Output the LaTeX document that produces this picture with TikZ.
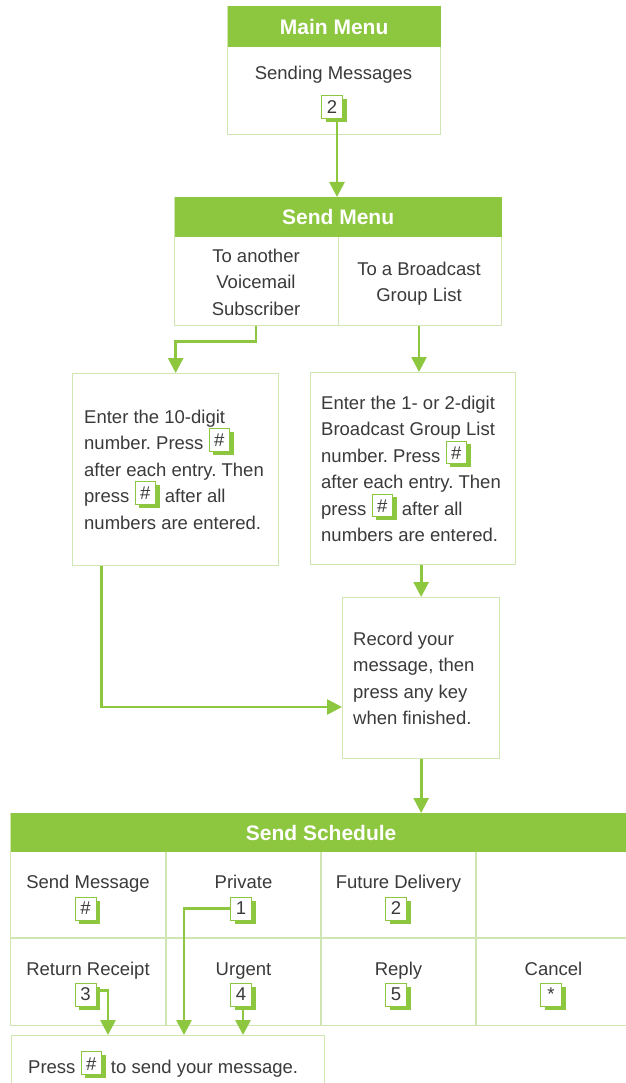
\documentclass[tikz,border=0pt]{standalone}
\usepackage{fontspec}
\setmainfont{Liberation Sans}
\usepackage{xcolor}
\usetikzlibrary{positioning,arrows.meta,shadows}
\definecolor{lime}{HTML}{8DC63F}
\definecolor{pale}{HTML}{CFE6B2}
\definecolor{ink}{HTML}{3A3A3A}
\frenchspacing
\newcommand\hashkey[1]{%
  \begingroup\setlength\fboxsep{0pt}\setlength\fboxrule{0.6pt}%
  \rlap{\hspace{4pt}\raisebox{-5pt}{\textcolor{lime}{\rule{21pt}{23pt}}}}%
  \fcolorbox{lime}{white}{\makebox[20pt]{\rule[-1pt]{0pt}{22pt}\raisebox{3pt}{#1}}}%
  \hspace{4pt}\endgroup}
\tikzset{
  panel/.style={draw=pale, line width=1.3pt, fill=white},
  head/.style={fill=lime, text=white, font=\fontsize{21}{24}\selectfont\bfseries, inner sep=0pt},
  txt/.style={text=ink, font=\fontsize{18.5}{26.5}\selectfont, align=center, inner sep=0pt},
  para/.style={text=ink, font=\fontsize{18.5}{26.5}\selectfont, align=left, inner sep=0pt, anchor=north west},
  keycap/.style={draw=lime, line width=0.6pt, fill=white, text=ink, font=\fontsize{18.5}{20}\selectfont,
    minimum width=21pt, minimum height=23pt, inner sep=0pt,
    general shadow={fill=lime, shadow xshift=4pt, shadow yshift=-4pt}},
  flow/.style={draw=lime, line width=2.7pt, -{Triangle[length=15pt,width=15pt]}},
  cellrule/.style={draw=pale, line width=1.3pt},
}
\begin{document}
\begin{tikzpicture}[x=1pt,y=-1pt]
  \useasboundingbox (0,0) rectangle (625,1083);

  % main menu
  \node[panel, minimum width=213pt, minimum height=128pt, anchor=north west] (mainbox) at (227,6) {};
  \node[head, minimum width=213pt, minimum height=41pt, anchor=north] (mainhead) at (mainbox.north) {Main Menu};
  \node[txt, anchor=base] (sendmsg) at (333.5,80) {Sending Messages};
  \node[keycap] (keytwo) at (332,107) {2};

  % send menu
  \node[panel, minimum width=327pt, minimum height=128pt, anchor=north west] (sendbox) at (174,197) {};
  \node[head, minimum width=327pt, minimum height=40pt, anchor=north] (sendhead) at (sendbox.north) {Send Menu};
  \draw[cellrule] (sendhead.south) -- (sendhead.south |- sendbox.south);
  \node[txt, anchor=north] (subscriber) at (256,248.5) {To another\\Voicemail\\Subscriber};
  \node[txt, anchor=north] (grouplist) at (419,261.5) {To a Broadcast\\Group List};

  % number entry
  \node[panel, minimum width=206pt, minimum height=192pt, anchor=north west] (tenbox) at (72,373) {};
  \node[para] (tentext) at (84,409.5) {Enter the 10-digit\\number. Press \hashkey{\#}\\after each entry. Then\\press \hashkey{\#} after all\\numbers are entered.};
  \node[panel, minimum width=205pt, minimum height=192pt, anchor=north west] (groupbox) at (310,372) {};
  \node[para] (grouptext) at (321,395.5) {Enter the 1- or 2-digit\\Broadcast Group List\\number. Press \hashkey{\#}\\after each entry. Then\\press \hashkey{\#} after all\\numbers are entered.};

  % record
  \node[panel, minimum width=157pt, minimum height=161pt, anchor=north west] (recbox) at (342,597) {};
  \node[para] (rectext) at (353,631.5) {Record your\\message, then\\press any key\\when finished.};
  \coordinate (recin) at (342,707);

  % send schedule
  \node[panel, minimum width=621pt, minimum height=212pt, anchor=north west] (schedbox) at (10,813) {};
  \node[head, minimum width=621pt, minimum height=39pt, anchor=north] (schedhead) at (schedbox.north) {Send Schedule};
  \draw[cellrule] (10,938) -- (631,938);
  \foreach \cx in {166,321,476} \draw[cellrule] (\cx,852) -- (\cx,1025);
  \foreach \id/\cx/\lab/\k in {send/88/Send Message/\#, private/243.5/Private/1, future/398.5/Future Delivery/2}{
    \node[txt, anchor=base] (\id) at (\cx,888) {\lab};
    \node[keycap] (\id-key) at (\cx-2.5,908.5) {\k};
  }
  \foreach \id/\cx/\lab/\k in {receipt/88/Return Receipt/3, urgent/243.5/Urgent/4, reply/398.5/Reply/5, cancel/553.5/Cancel/\raisebox{-5pt}{*}}{
    \node[txt, anchor=base] (\id) at (\cx,975) {\lab};
    \node[keycap] (\id-key) at (\cx-2.5,994.5) {\k};
  }

  % press box
  \node[panel, minimum width=313pt, minimum height=70pt, anchor=north west] (pressbox) at (11,1035) {};
  \node[txt, anchor=base west] (presstext) at (28,1073) {Press \hashkey{\#} to send your message.};
  \coordinate (rcpdrop) at (108,1035);
  \coordinate (privdrop) at (184,1035);

  % connectors
  \draw[flow] ([xshift=5pt]keytwo.south) -- ([xshift=5pt]keytwo.south |- sendbox.north);
  \draw[flow] (subscriber.south |- sendbox.south) -- ++(0,15) -| (tenbox.north);
  \draw[flow] (grouplist.south |- sendbox.south) -- (grouplist.south |- groupbox.north);
  \draw[flow] (recbox.north |- groupbox.south) -- (recbox.north);
  \draw[flow] ([xshift=-74pt]tenbox.south) |- (recin);
  \draw[flow] (recbox.south) -- (recbox.south |- schedbox.north);
  \draw[flow] ([yshift=4pt]receipt-key.east) -| (rcpdrop);
  \draw[flow] (private-key.west) -| (privdrop);
  \draw[flow] ([xshift=2pt]urgent-key.south) -- ([xshift=2pt]urgent-key.south |- pressbox.north);
\end{tikzpicture}
\end{document}
